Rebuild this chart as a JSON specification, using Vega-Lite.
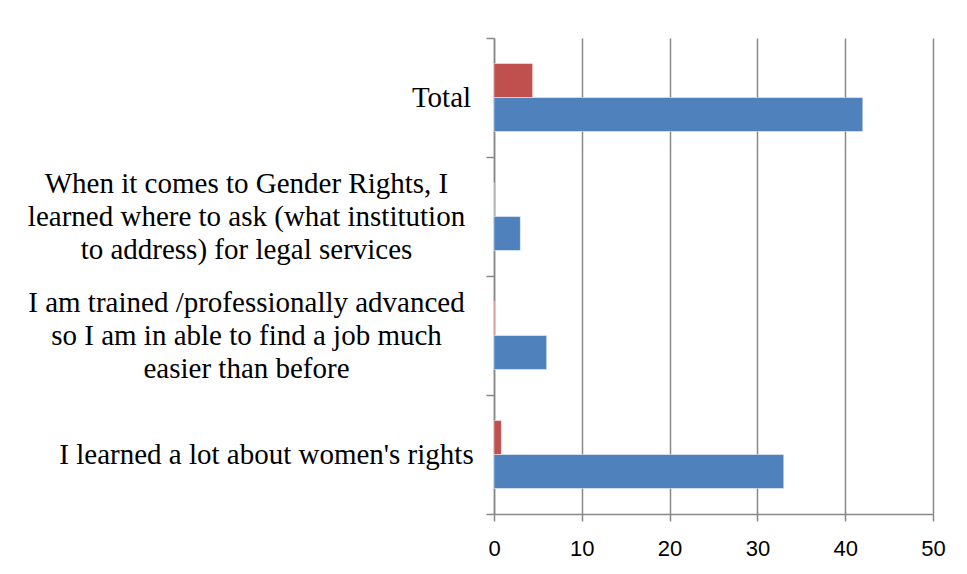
{
  "$schema": "https://vega.github.io/schema/vega-lite/v6.json",
  "width": 439,
  "height": 476,
  "autosize": "none",
  "padding": {"left": 494, "top": 38, "right": 34, "bottom": 60},
  "background": "white",
  "config": {"view": {"stroke": null}},
  "data": {
    "values": [
      {"item": "Total", "series": "Series 1", "value": 42},
      {"item": "Total", "series": "Series 2", "value": 4.4},
      {"item": "When it comes to Gender Rights, I|learned where to ask (what institution|to address)  for legal services", "series": "Series 1", "value": 3},
      {"item": "When it comes to Gender Rights, I|learned where to ask (what institution|to address)  for legal services", "series": "Series 2", "value": 0},
      {"item": "I am trained /professionally advanced|so I am in able to find a job much|easier than before", "series": "Series 1", "value": 6},
      {"item": "I am trained /professionally advanced|so I am in able to find a job much|easier than before", "series": "Series 2", "value": 0.1},
      {"item": "I learned a lot about women's rights", "series": "Series 1", "value": 33},
      {"item": "I learned a lot about women's rights", "series": "Series 2", "value": 0.84}
    ]
  },
  "mark": {"type": "bar", "stroke": "white", "strokeOpacity": 0.45, "strokeWidth": 1},
  "encoding": {
    "y": {
      "field": "item",
      "type": "nominal",
      "sort": [
        "Total",
        "When it comes to Gender Rights, I|learned where to ask (what institution|to address)  for legal services",
        "I am trained /professionally advanced|so I am in able to find a job much|easier than before",
        "I learned a lot about women's rights"
      ],
      "scale": {"paddingInner": 0, "paddingOuter": 0},
      "axis": {
        "title": null,
        "grid": false,
        "domain": true,
        "domainColor": "#888888",
        "domainWidth": 1.5,
        "ticks": true,
        "tickBand": "extent",
        "tickSize": 8,
        "tickColor": "#888888",
        "tickWidth": 1.5,
        "labelFont": "Liberation Serif",
        "labelFontSize": 29,
        "labelColor": "#000000",
        "labelAlign": "center",
        "labelBaseline": "middle",
        "labelLineHeight": 33,
        "labelLimit": 0,
        "labelExpr": "split(datum.label, '|')",
        "labelOffset": {
          "condition": [
            {"test": "datum.value == 'Total'", "value": 0},
            {"test": "datum.value == \"I learned a lot about women's rights\"", "value": 0}
          ],
          "value": -33
        },
        "labelPadding": {
          "condition": [
            {"test": "datum.value == 'Total'", "value": 45},
            {"test": "datum.value == \"I learned a lot about women's rights\"", "value": 220}
          ],
          "value": 240
        }
      }
    },
    "yOffset": {
      "field": "series",
      "type": "nominal",
      "sort": ["Series 2", "Series 1"],
      "scale": {"paddingInner": 0, "paddingOuter": 0.75}
    },
    "x": {
      "field": "value",
      "type": "quantitative",
      "scale": {"domain": [0, 50], "nice": false},
      "axis": {
        "title": null,
        "values": [0, 10, 20, 30, 40, 50],
        "grid": true,
        "gridColor": "#888888",
        "gridWidth": 1.5,
        "domainColor": "#888888",
        "domainWidth": 1.5,
        "tickColor": "#888888",
        "tickWidth": 1.5,
        "tickSize": 7,
        "labelFont": "Liberation Sans",
        "labelFontSize": 22,
        "labelColor": "#000000",
        "labelPadding": 17,
        "labelFlush": false
      }
    },
    "color": {
      "field": "series",
      "type": "nominal",
      "scale": {"domain": ["Series 1", "Series 2"], "range": ["#4F81BD", "#C0504D"]},
      "legend": null
    }
  }
}
